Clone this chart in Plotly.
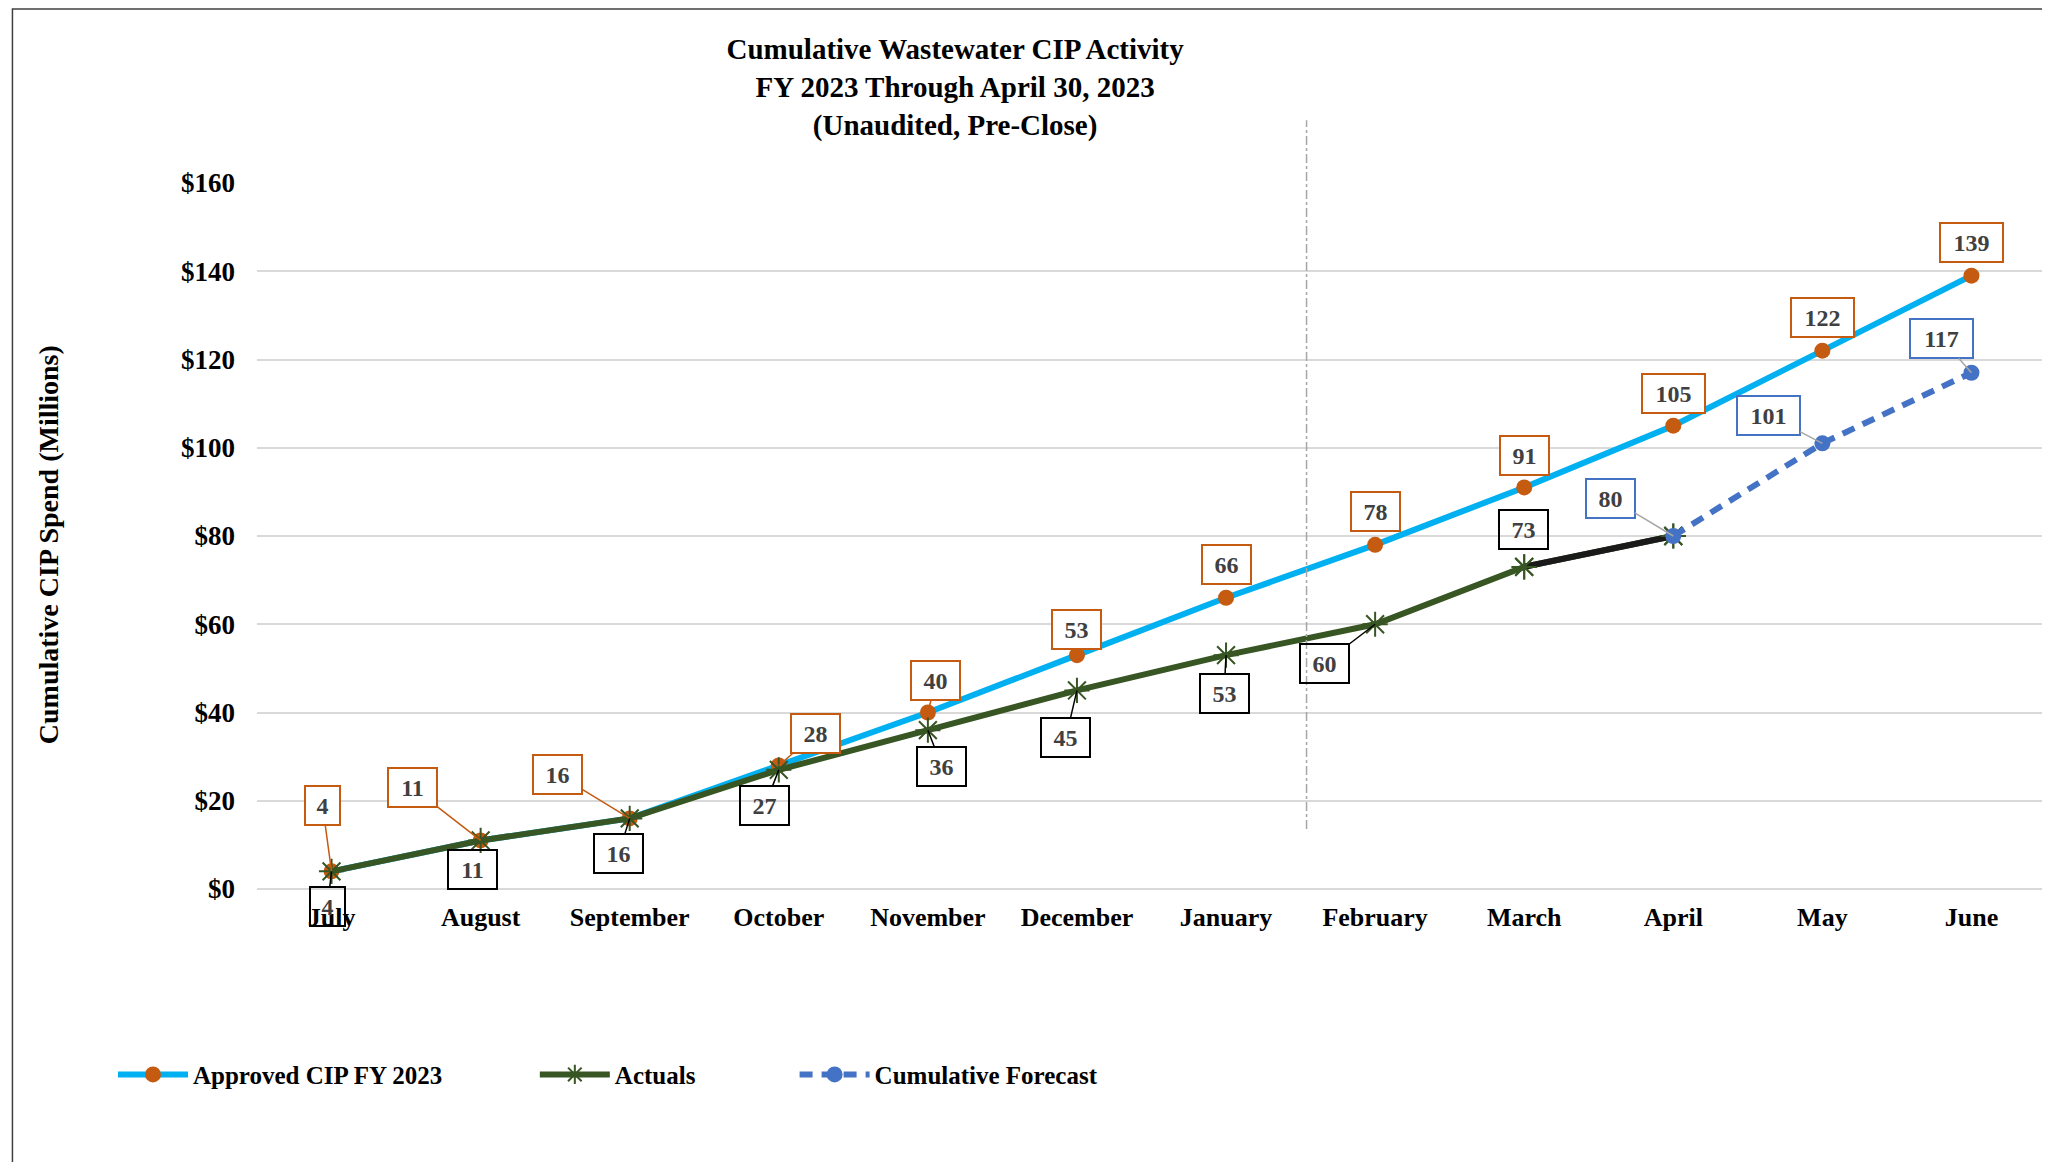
"""Cumulative Wastewater CIP Activity - FY 2023 line chart"""
import plotly.graph_objects as go

months = ["July", "August", "September", "October", "November", "December",
          "January", "February", "March", "April", "May", "June"]
approved = [4, 11, 16, 28, 40, 53, 66, 78, 91, 105, 122, 139]
actuals = [4, 11, 16, 27, 36, 45, 53, 60, 73, 80]
forecast_months = ["April", "May", "June"]
forecast = [80, 101, 117]

FONT = "Liberation Serif"
ORANGE = "#C55A11"
SKY = "#00B0F0"
GREEN = "#375623"
BLUE = "#4472C4"
TEXT = "#404040"

# label offsets (pixels from point to box centre) and whether a leader line shows
approved_off = [(-9, -66, 1), (-68, -53, 1), (-72, -44, 1), (37, -32, 1), (8, -32, 1),
                (0, -26, 0), (0, -33, 0), (0, -33, 0), (0, -32, 0), (0, -32, 0),
                (0, -33, 0), (0, -33, 0)]
actual_off = [(-4, 35, 1), (-8, 29, 0), (-11, 35, 1), (-14, 36, 1), (14, 36, 1),
              (-11, 47, 1), (-2, 38, 1), (-51, 39, 1), (-1, -37, 0)]
forecast_off = [(-63, -38, 1), (-54, -28, 1), (-30, -34, 1)]


def data_label(x, y, value, box_color, off, leader_color, fill="white"):
    dx, dy, leader = off
    text = str(value)
    return dict(
        x=x, y=y, text=text,
        showarrow=True, ax=dx, ay=dy, arrowhead=0, arrowwidth=1.5,
        arrowcolor=leader_color if leader else "rgba(0,0,0,0)",
        bordercolor=box_color, borderwidth=2, borderpad=2, bgcolor=fill,
        width=14 * len(text) + 15, height=33,
        font=dict(family=FONT, size=24, color=TEXT, weight="bold"),
    )


fig = go.Figure()

fig.add_trace(go.Scatter(
    x=months, y=approved, name="Approved CIP FY 2023", mode="lines+markers",
    line=dict(color=SKY, width=6), marker=dict(color=ORANGE, size=16),
    legend="legend",
))
fig.add_trace(go.Scatter(
    x=months[:len(actuals)], y=actuals, name="Actuals", mode="lines+markers",
    line=dict(color=GREEN, width=6),
    marker=dict(symbol="asterisk-open", size=21, color=GREEN, line=dict(color=GREEN, width=2)),
    legend="legend2",
))
# last actual segment is drawn black
fig.add_trace(go.Scatter(
    x=months[len(actuals) - 2:len(actuals)], y=actuals[-2:], mode="lines",
    line=dict(color="#1A1A1A", width=6), showlegend=False, hoverinfo="skip",
))
fig.add_trace(go.Scatter(
    x=months[len(actuals) - 2:len(actuals)], y=actuals[-2:], mode="markers",
    marker=dict(symbol="asterisk-open", size=21, color=GREEN, line=dict(color=GREEN, width=2)),
    showlegend=False, hoverinfo="skip",
))
fig.add_trace(go.Scatter(
    x=forecast_months, y=forecast, name="Cumulative Forecast", mode="lines+markers",
    line=dict(color=BLUE, width=6, dash="13px,9px"), marker=dict(color=BLUE, size=16),
    legend="legend3",
))

annotations = []
for m, v, off in zip(months, approved, approved_off):
    annotations.append(data_label(m, v, v, ORANGE, off, ORANGE))
for m, v, off in zip(months, actuals, actual_off):
    annotations.append(data_label(m, v, v, "#000000", off, "#000000", "rgba(255,255,255,0)"))
for m, v, off in zip(forecast_months, forecast, forecast_off):
    annotations.append(data_label(m, v, v, BLUE, off, "#A6A6A6"))

annotations.append(dict(
    text="Cumulative CIP Spend (Millions)", textangle=-90, showarrow=False,
    xref="paper", yref="paper", x=-0.1168, y=0.487, xanchor="center", yanchor="middle",
    font=dict(family=FONT, size=28, color="#000000", weight="bold"),
))

legend_style = dict(
    orientation="h", yanchor="middle", y=-0.263, itemwidth=70,
    font=dict(family=FONT, size=25, color="#000000", weight="bold"),
    bgcolor="rgba(0,0,0,0)",
)

fig.update_layout(
    width=2050, height=1162,
    margin=dict(l=249, r=12, t=175, b=281),
    paper_bgcolor="white", plot_bgcolor="white",
    title=dict(
        text="Cumulative Wastewater CIP Activity<br>FY 2023 Through April 30, 2023"
             "<br>(Unaudited, Pre-Close)",
        x=0.462, xanchor="center", xref="container",
        y=0.9558, yanchor="middle", yref="container",
        font=dict(family=FONT, size=29, color="#000000", weight="bold"),
    ),
    xaxis=dict(
        type="category", range=[-0.5, 11.5], showgrid=False, showline=False,
        zeroline=False, ticks="", ticklabelstandoff=10,
        tickfont=dict(family=FONT, size=26, color="#000000", weight="bold"),
    ),
    yaxis=dict(
        range=[0, 160], dtick=20, tickprefix="$", showline=False,
        gridcolor="#D9D9D9", gridwidth=2,
        zeroline=True, zerolinecolor="#D9D9D9", zerolinewidth=2,
        ticks="", ticklabelstandoff=21,
        tickfont=dict(family=FONT, size=27, color="#000000", weight="bold"),
    ),
    legend=dict(legend_style, x=-0.0805),
    legend2=dict(legend_style, x=0.1553),
    legend3=dict(legend_style, x=0.3005),
    annotations=annotations,
    shapes=[
        dict(type="line", xref="x", yref="paper", x0=6.54, x1=6.54, y0=0.085, y1=1.089,
             line=dict(color="#A6A6A6", width=1.5, dash="dashdot")),
        dict(type="rect", xref="paper", yref="paper", x0=-0.1367, x1=1.05, y0=-0.5, y1=1.2465,
             line=dict(color="#404040", width=1.5)),
    ],
    showlegend=True,
)

fig.write_html("out.html")
